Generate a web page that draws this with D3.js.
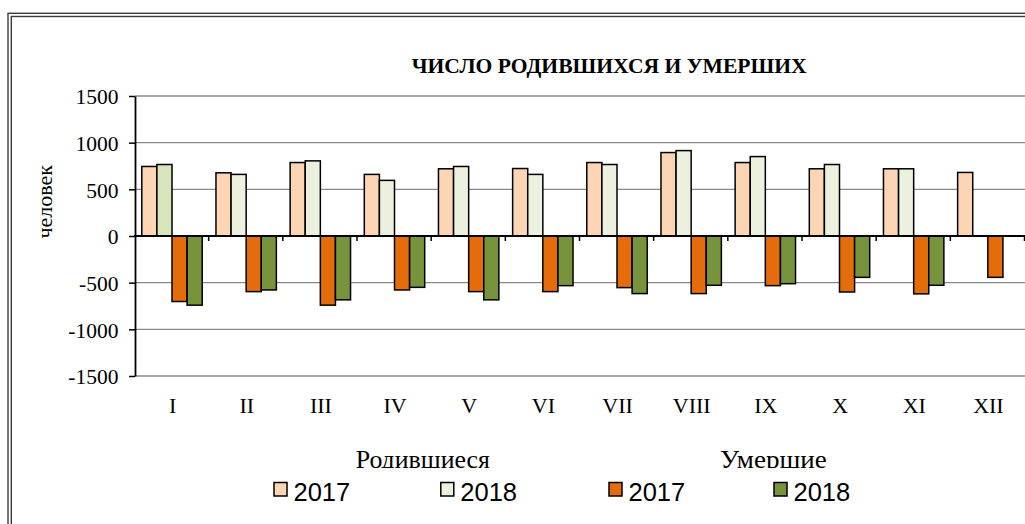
<!DOCTYPE html>
<html><head><meta charset="utf-8">
<script src="https://cdn.jsdelivr.net/npm/d3@7"></script>
<style>body{margin:0;background:#fff}svg{display:block}</style>
</head><body>
<svg id="c" width="1025" height="524"></svg>
<script>
// ---- data ----
const months = ['I','II','III','IV','V','VI','VII','VIII','IX','X','XI','XII'];
const births2017 = [745, 677, 787, 660, 720, 723, 787, 894, 787, 720, 720, 681];
const births2018 = [766, 660, 805, 596, 745, 660, 766, 915, 851, 766, 720, null];
const deaths2017 = [-702, -596, -741, -578, -596, -596, -553, -617, -532, -600, -620, -443];
const deaths2018 = [-741, -578, -684, -550, -684, -532, -617, -528, -511, -443, -528, null];
const seriesKeys = ['b2017','b2018','d2017','d2018'];
const legendGroups = ['Родившиеся','Умершие'];
const legendYears = ['2017','2018','2017','2018'];
const yTicks = [-1500,-1000,-500,0,500,1000,1500];
const chartTitle = 'ЧИСЛО РОДИВШИХСЯ И УМЕРШИХ';
const yTitle = 'человек';

// ---- styles ----
const fills = {b2017:'#FCD5B4', b2018:'#EBF1DE', d2017:'#E46C0A', d2018:'#77933C'};
const firstPointFill = {b2018:'#D8E4BC'};
const serif = "'Liberation Serif','Times New Roman',serif";
const sans = "'Liberation Sans',Arial,sans-serif";

const series = [
  {key:'b2017', values:births2017},
  {key:'b2018', values:births2018},
  {key:'d2017', values:deaths2017},
  {key:'d2018', values:deaths2018}
];

const W = 1025, H = 524;
const svg = d3.select('#c');

// frame (double line)
svg.append('rect').attr('x',8).attr('y',13.3).attr('width',W+20).attr('height',H+20)
  .attr('fill','none').attr('stroke','#3c3c3c').attr('stroke-width',1.4);
svg.append('rect').attr('x',11.3).attr('y',16.5).attr('width',W+20).attr('height',H+20)
  .attr('fill','none').attr('stroke','#3c3c3c').attr('stroke-width',1.4);

// scales
const x = d3.scaleBand().domain(months).range([134.5, 1024.5]).padding(0);
const xs = d3.scaleBand().domain(seriesKeys).range([7.3, 67.7]).padding(0);
const y = d3.scaleLinear().domain([-1500, 1500]).range([376, 96]);

// gridlines
svg.append('g').selectAll('line').data(yTicks).join('line')
  .attr('x1', 135).attr('x2', W)
  .attr('y1', d => y(d)).attr('y2', d => y(d))
  .attr('stroke', '#8a8a8a').attr('stroke-width', 1.4);

// bars
const gBars = svg.append('g');
series.forEach(s => {
  gBars.append('g').selectAll('rect')
    .data(s.values.map((v,i) => ({v, i})).filter(d => d.v !== null))
    .join('rect')
    .attr('x', d => x(months[d.i]) + xs(s.key))
    .attr('width', xs.bandwidth())
    .attr('y', d => Math.min(y(d.v), y(0)))
    .attr('height', d => Math.abs(y(d.v) - y(0)))
    .attr('fill', d => (d.i === 0 && firstPointFill[s.key]) ? firstPointFill[s.key] : fills[s.key])
    .attr('stroke', '#000').attr('stroke-width', 1.5);
});

// zero axis with category boundary ticks
svg.append('line').attr('x1', 134).attr('x2', W).attr('y1', y(0)).attr('y2', y(0))
  .attr('stroke', '#000').attr('stroke-width', 1.8);
svg.append('g').selectAll('line').data(d3.range(1, months.length + 1)).join('line')
  .attr('x1', i => x.range()[0] + i * x.step()).attr('x2', i => x.range()[0] + i * x.step())
  .attr('y1', y(0)).attr('y2', y(0) + 5)
  .attr('stroke', '#000').attr('stroke-width', 1.5);

// left axis
const yAxis = svg.append('g').attr('transform', 'translate(135,0)')
  .call(d3.axisLeft(y).tickValues(yTicks).tickSize(6).tickSizeOuter(0).tickPadding(10.5).tickFormat(d => String(d)));
yAxis.select('.domain').attr('stroke', '#000').attr('stroke-width', 1.8);
yAxis.selectAll('.tick line').attr('stroke', '#000').attr('stroke-width', 1.5);
yAxis.selectAll('.tick text').attr('font-family', serif).attr('font-size', 21.5)
  .attr('fill', '#000').attr('dy', '0.36em');

// month labels
svg.append('g').selectAll('text').data(months).join('text')
  .attr('x', d => x(d) + x.bandwidth() / 2 + 1)
  .attr('y', 413.3)
  .attr('text-anchor', 'middle')
  .attr('font-family', serif).attr('font-size', 22)
  .text(d => d);

// y title
svg.append('text')
  .attr('transform', 'translate(51.5,201.7) rotate(-90)')
  .attr('text-anchor', 'middle')
  .attr('font-family', serif).attr('font-size', 22)
  .text(yTitle);

// chart title
svg.append('text')
  .attr('x', 411.7).attr('y', 73.3)
  .attr('font-family', serif).attr('font-size', 21).attr('font-weight', 'bold')
  .attr('textLength', 395).attr('lengthAdjust', 'spacingAndGlyphs')
  .text(chartTitle);

// legend
const defs = svg.append('defs');
defs.append('clipPath').attr('id', 'legclip').append('rect')
  .attr('x', 0).attr('y', 0).attr('width', W).attr('height', 468);
const headerX = [355.7, 720];
svg.append('g').attr('clip-path', 'url(#legclip)').selectAll('text').data(legendGroups).join('text')
  .attr('x', (d, i) => headerX[i]).attr('y', 467.5)
  .attr('font-family', serif).attr('font-size', 26)
  .attr('textLength', (d, i) => i === 0 ? 134.3 : 106.7)
  .attr('lengthAdjust', 'spacingAndGlyphs')
  .text(d => d);

const legX = [274, 440.8, 609, 774];
const leg = svg.append('g').selectAll('g').data(seriesKeys).join('g')
  .attr('transform', (d, i) => `translate(${legX[i]},0)`);
leg.append('rect').attr('x', 0).attr('y', 482.5).attr('width', 13).attr('height', 13.5)
  .attr('fill', d => fills[d]).attr('stroke', '#000').attr('stroke-width', 1.5);
leg.append('text').attr('x', 19.5).attr('y', 501)
  .attr('font-family', sans).attr('font-size', 25.5)
  .text((d, i) => legendYears[i]);
</script>
</body></html>
